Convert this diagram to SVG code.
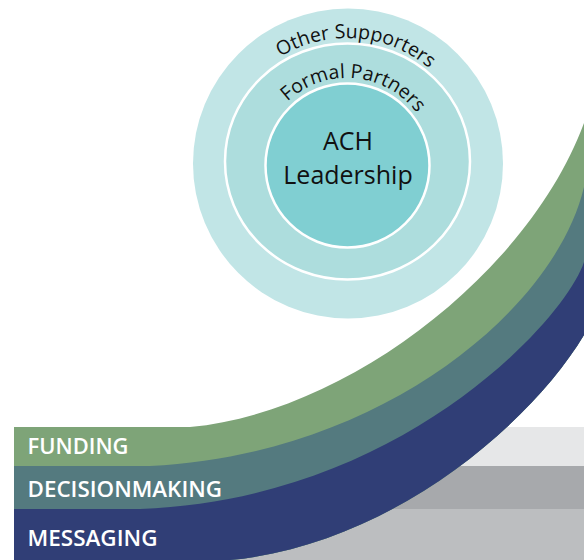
<svg xmlns="http://www.w3.org/2000/svg" width="584" height="560" viewBox="0 0 584 560">
<style>
.lbl{font-family:"Open Sans","Liberation Sans",sans-serif;fill:#111111}
.band{font-family:"Open Sans","Liberation Sans",sans-serif;font-weight:600;font-size:21px;fill:#ffffff}
.ring{stroke:#ffffff;stroke-width:2.5}
</style>
<defs>
<path id="arcOuter" d="M220,165 A127,127 0 0 1 474,165"/>
<path id="arcMid" d="M260,165 A87,87 0 0 1 434,165"/>
</defs>
<rect width="584" height="560" fill="#ffffff"/>
<g id="grey-bars">
<rect x="14" y="427" width="570" height="39" fill="#e6e7e8"/>
<rect x="14" y="466" width="570" height="43" fill="#a7a9ac"/>
<rect x="14" y="509" width="570" height="51" fill="#bcbec0"/>
</g>
<g id="funding">
<path d="M14,427 H190 C350,412 530,270 584,123 V335 C530,425 390,545 230,560 H14 Z" fill="#7ea478"/>
<text class="band" x="27.5" y="454" textLength="101" lengthAdjust="spacingAndGlyphs">FUNDING</text>
</g>
<g id="decisionmaking">
<path d="M14,466 H150 C380,455 555,310 584,187 V335 C530,425 390,545 230,560 H14 Z" fill="#547a7f"/>
<text class="band" x="27.5" y="496.5" textLength="194.5" lengthAdjust="spacingAndGlyphs">DECISIONMAKING</text>
</g>
<g id="messaging">
<path d="M14,509 H140 C400,500 565,320 584,262 V335 C530,425 390,545 230,560 H14 Z" fill="#303e76"/>
<text class="band" x="27.5" y="545.5" textLength="130" lengthAdjust="spacingAndGlyphs">MESSAGING</text>
</g>
<g id="other-supporters">
<circle cx="348" cy="163.5" r="155" fill="#c1e5e6"/>
<text class="lbl" font-size="19.5"><textPath href="#arcOuter" startOffset="209" text-anchor="middle">Other Supporters</textPath></text>
</g>
<g id="formal-partners">
<ellipse class="ring" cx="347.5" cy="161.5" rx="122.5" ry="118" fill="#addddd"/>
<text class="lbl" font-size="19.5"><textPath href="#arcMid" startOffset="144" text-anchor="middle">Formal Partners</textPath></text>
</g>
<g id="ach-leadership">
<circle class="ring" cx="347.5" cy="165.5" r="82" fill="#80cfd2"/>
<text class="lbl" font-size="25" x="348" y="150" text-anchor="middle">ACH</text>
<text class="lbl" font-size="25" x="348" y="183.5" text-anchor="middle">Leadership</text>
</g>
</svg>
